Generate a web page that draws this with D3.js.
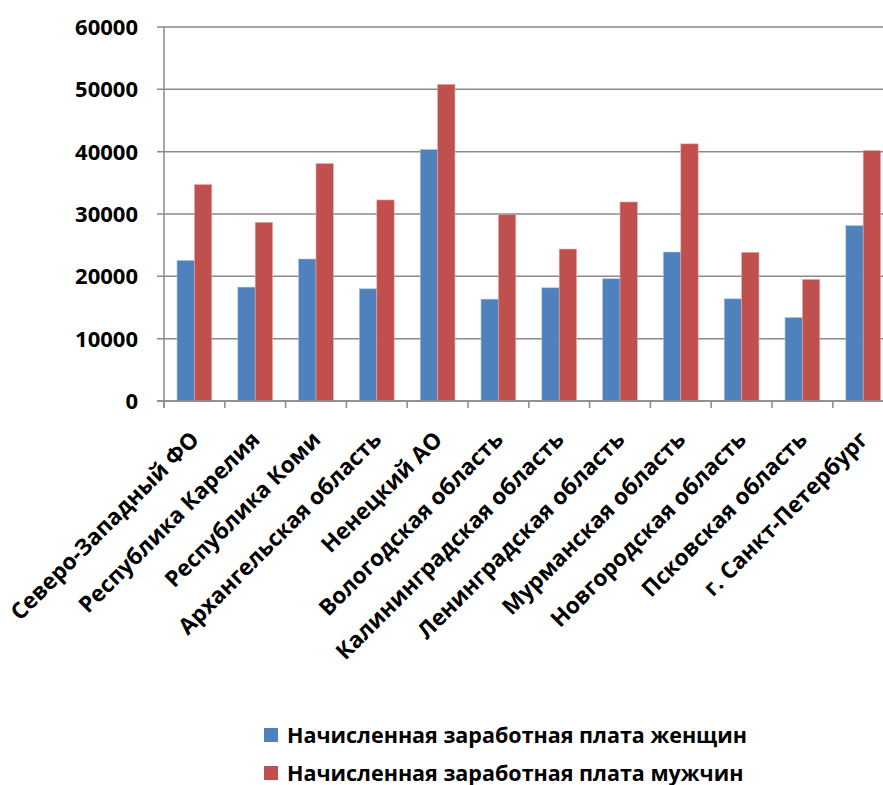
<!DOCTYPE html>
<html>
<head>
<meta charset="utf-8">
<script src="https://cdn.jsdelivr.net/npm/d3@7"></script>
<style>
  body { margin: 0; background: #fff; }
  svg { display: block; font-family: "Open Sans", sans-serif; font-weight: bold; }
</style>
</head>
<body>
<svg></svg>
<script>
// salaries by region, women vs men

var regions = ['Северо-Западный ФО', 'Республика Карелия', 'Республика Коми', 'Архангельская область',
    'Ненецкий АО', 'Вологодская область', 'Калининградская область', 'Ленинградская область',
    'Мурманская область', 'Новгородская область', 'Псковская область', 'г. Санкт-Петербург']
var women = [22550, 18270, 22780, 18000, 40340, 16340, 18160, 19610, 23900, 16390, 13390, 28130]
var men = [34720, 28660, 38090, 32250, 50790, 29950, 24380, 31930, 41250, 23840, 19500, 40180]
var seriesNames = ['Начисленная заработная плата женщин', 'Начисленная заработная плата мужчин']
var yTicks = [0, 10000, 20000, 30000, 40000, 50000, 60000]
var colors = ['#4f81bd', '#c0504d']

var width = 883,
    height = 785,
    plotLeft = 164,
    plotTop = 27,
    plotBottom = 401

var svg = d3.select('svg')
    .attr('width', width)
    .attr('height', height)

var rows = regions.map(function(r, i) { return { region: r, values: [women[i], men[i]] } })

var x0 = d3.scaleBand()
    .domain(regions)
    .range([plotLeft, plotLeft + 12 * 60.8])

var x1 = d3.scaleBand()
    .domain([0, 1])
    .range([0, x0.bandwidth()])
    .paddingInner(0)
    .paddingOuter(0.75)

var y = d3.scaleLinear()
    .domain([0, 60000])
    .range([plotBottom, plotTop])

// gridlines
svg.append('g')
    .selectAll('line')
    .data(yTicks)
    .join('line')
    .attr('x1', plotLeft - 7)
    .attr('x2', width)
    .attr('y1', d => y(d))
    .attr('y2', d => y(d))
    .attr('stroke', '#8a8a8a')
    .attr('stroke-width', 1.5)

// y labels
svg.append('g')
    .selectAll('text')
    .data(yTicks)
    .join('text')
    .attr('x', 138)
    .attr('y', d => y(d))
    .attr('dy', '0.36em')
    .attr('text-anchor', 'end')
    .style('font-size', '22px')
    .text(d => d)

// bars
var groups = svg.append('g')
    .selectAll('g')
    .data(rows)
    .join('g')
    .attr('transform', d => 'translate(' + x0(d.region) + ',0)')

groups.selectAll('rect')
    .data(d => d.values)
    .join('rect')
    .attr('x', (d, i) => x1(i))
    .attr('width', x1.bandwidth())
    .attr('y', d => y(d))
    .attr('height', d => plotBottom - y(d))
    .attr('fill', (d, i) => colors[i])
    .attr('stroke', (d, i) => i == 0 ? '#a9c1e0' : '#e3a9a7')
    .attr('stroke-width', 0.6)

// axes lines
svg.append('line')
    .attr('x1', plotLeft).attr('x2', plotLeft)
    .attr('y1', plotTop).attr('y2', plotBottom + 7)
    .attr('stroke', '#8a8a8a')
    .attr('stroke-width', 1.5)

svg.append('line')
    .attr('x1', plotLeft - 7).attr('x2', width)
    .attr('y1', plotBottom).attr('y2', plotBottom)
    .attr('stroke', '#8a8a8a')
    .attr('stroke-width', 1.5)

svg.append('g')
    .selectAll('line')
    .data(regions)
    .join('line')
    .attr('x1', d => x0(d))
    .attr('x2', d => x0(d))
    .attr('y1', plotBottom)
    .attr('y2', plotBottom + 7)
    .attr('stroke', '#8a8a8a')
    .attr('stroke-width', 1.5)

// category labels
svg.append('g')
    .selectAll('text')
    .data(regions)
    .join('text')
    .attr('transform', d => 'translate(' + (x0(d) + x0.bandwidth() / 2 + 6) + ',441) rotate(-45)')
    .attr('text-anchor', 'end')
    .style('font-size', '22.5px')
    .text(d => d)

// legend
var legend = svg.append('g')
    .selectAll('g')
    .data(seriesNames)
    .join('g')
    .attr('transform', (d, i) => 'translate(264,' + (728 + i * 38) + ')')

legend.append('rect')
    .attr('width', 14)
    .attr('height', 14)
    .attr('fill', (d, i) => colors[i])

legend.append('text')
    .attr('x', 23)
    .attr('y', 7)
    .attr('dy', '0.36em')
    .style('font-size', '21.5px')
    .text(d => d)
</script>
</body>
</html>
